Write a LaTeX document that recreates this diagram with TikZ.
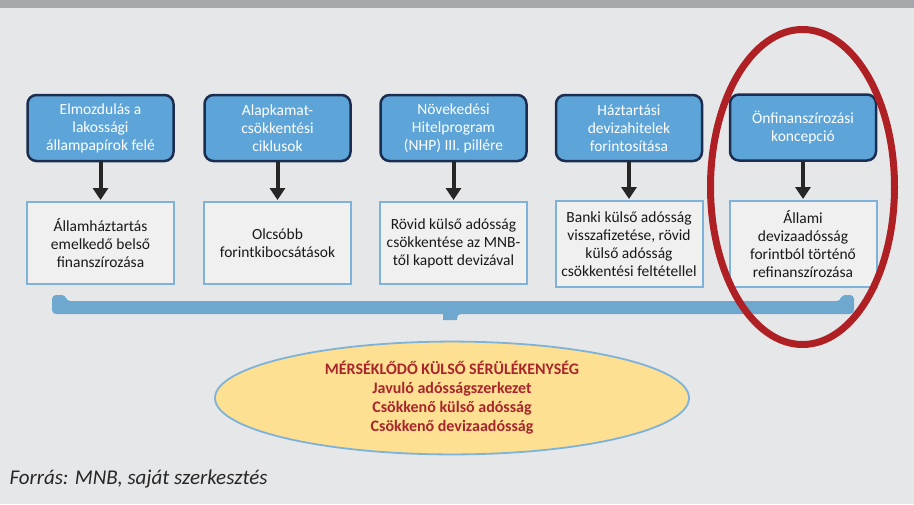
\documentclass[tikz,border=0pt]{standalone}
\usepackage{fontspec}
\setmainfont{Carlito}
\usepackage{xcolor}
\usetikzlibrary{arrows.meta,shapes}

\definecolor{bgray}{HTML}{E6E7E9}
\definecolor{bargray}{HTML}{A7A8AB}
\definecolor{boxblue}{HTML}{5DA5D9}
\definecolor{navy}{HTML}{1C2D50}
\definecolor{lightblue}{HTML}{7FB2D8}
\definecolor{braceblue}{HTML}{6FA8CE}
\definecolor{paleyellow}{HTML}{FEE093}
\definecolor{darkred}{HTML}{A8262B}
\definecolor{hlred}{HTML}{AE2024}

\begin{document}
\begin{tikzpicture}[x=1pt, y=-1pt,
top node/.style={rectangle, rounded corners=9pt, draw=navy, line width=2.5pt, fill=boxblue, text=white, minimum width=146pt, minimum height=66pt, align=center, font=\fontsize{15.5}{18}\selectfont, inner sep=0pt},
bottom node/.style={rectangle, draw=lightblue, line width=2pt, fill=white!94!black, text=black!90, minimum width=147pt, minimum height=82pt, align=center, font=\fontsize{15.5}{18}\selectfont, inner sep=0pt},
result node/.style={ellipse, draw=lightblue, line width=1.8pt, fill=paleyellow, text=darkred, minimum width=474pt, minimum height=104pt, align=center, font=\bfseries\fontsize{16}{19}\selectfont},
arr/.style={-{Triangle[length=12pt,width=15pt]}, line width=4pt, black!85, shorten >=1pt}]
\useasboundingbox (0,0) rectangle (914,504);
\fill[bgray] (0,0) rectangle (914,504);
\fill[bargray] (0,0) rectangle (914,8);

\node[top node] (t1) at (100.5,128) {Elmozdulás a\\lakossági\\állampapírok felé};
\node[top node] (t2) at (277.5,128) {Alapkamat-\\csökkentési\\ciklusok};
\node[top node] (t3) at (453.5,128) {Növekedési\\Hitelprogram\\(NHP) III. pillére};
\node[top node] (t4) at (629,128) {Háztartási\\devizahitelek\\forintosítása};
\node[top node] (t5) at (803,127.5) {Önfinanszírozási\\koncepció};

\node[bottom node] (b1) at (100.5,243) {Államháztartás\\emelkedő belső\\finanszírozása};
\node[bottom node] (b2) at (277.5,243) {Olcsóbb\\forintkibocsátások};
\node[bottom node] (b3) at (453.5,243) {Rövid külső adósság\\csökkentése az MNB-\\től kapott devizával};
\node[bottom node, minimum height=86pt] (b4) at (629,244) {Banki külső adósság\\visszafizetése, rövid\\külső adósság\\csökkentési feltétellel};
\node[bottom node, minimum height=86pt] (b5) at (803,244) {Állami\\devizaadósság\\forintból történő\\refinanszírozása};

\path[arr]
(t1) edge (b1)
(t2) edge (b2)
(t3) edge (b3)
(t4) edge (b4)
(t5) edge (b5);

\fill[braceblue, rounded corners=4pt] (52,295) -- (66,295) -- (66,301) -- (841,301) -- (841,295) -- (854,295) -- (854,314) -- (457,314) [sharp corners] -- (457,320) -- (443,320) -- (443,314) [rounded corners=4pt] -- (52,314) -- cycle;

\node[result node] (r) at (452,398) {MÉRSÉKLŐDŐ KÜLSŐ SÉRÜLÉKENYSÉG\\Javuló adósságszerkezet\\Csökkenő külső adósság\\Csökkenő devizaadósság};

\draw[hlred, line width=7pt] (802.5,187) ellipse [x radius=92, y radius=157.5];

\node[anchor=west, font=\itshape\fontsize{21}{24}\selectfont, text=black!85] (src) at (6,479) {Forrás: MNB, saját szerkesztés};
\end{tikzpicture}
\end{document}
